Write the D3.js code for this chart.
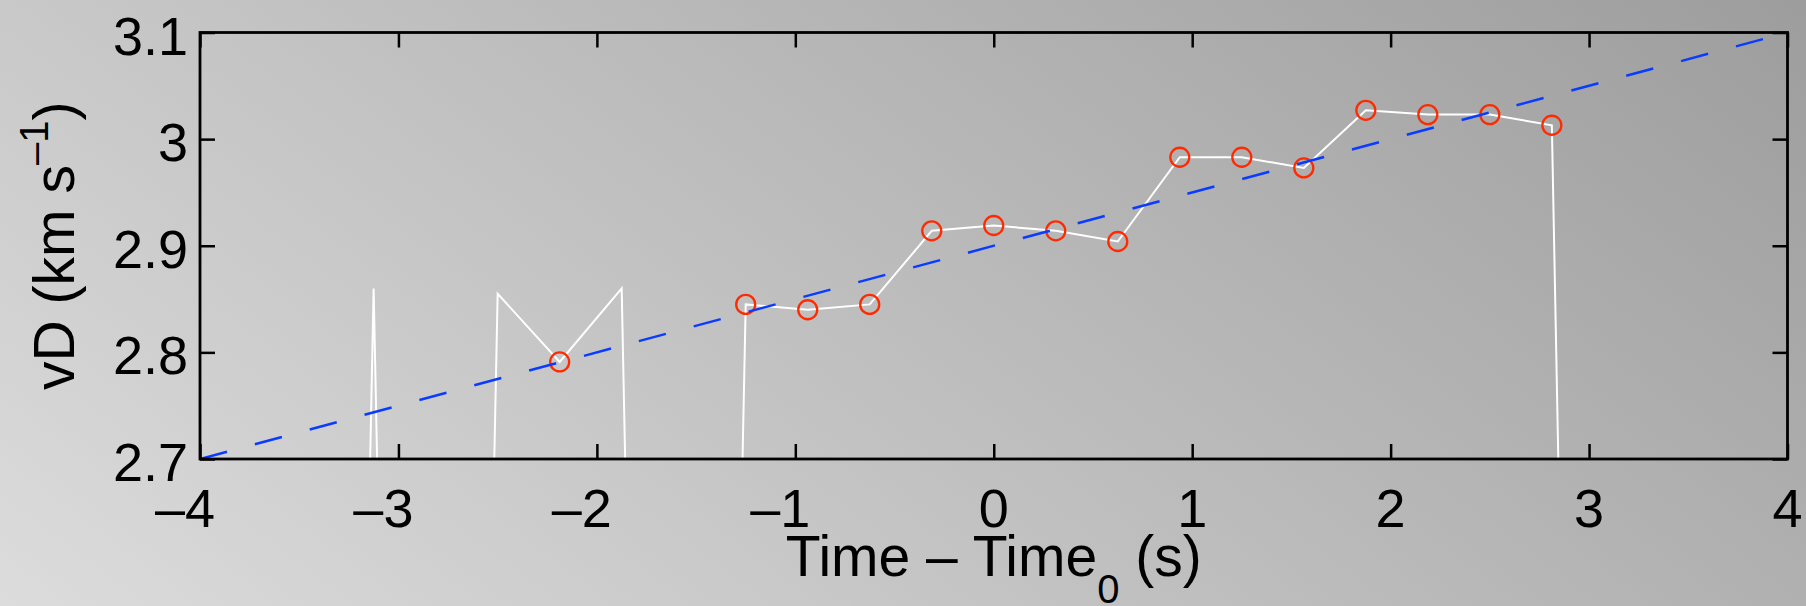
<!DOCTYPE html>
<html>
<head>
<meta charset="utf-8">
<script src="https://cdn.jsdelivr.net/npm/d3@7"></script>
<style>
  html, body { margin: 0; padding: 0; background: #c0c0c0; }
  svg { display: block; }
  text { font-family: "Liberation Sans", Arial, Helvetica, sans-serif; fill: #000; }
</style>
</head>
<body>
<svg id="chart" width="1806" height="606"></svg>
<script>
// Sample times (s, relative to Time0) and Doppler velocity (km/s)
const time = [-3.4375, -3.125, -2.8125, -2.5, -2.1875, -1.875, -1.5625, -1.25, -0.9375, -0.625,
              -0.3125, 0, 0.3125, 0.625, 0.9375, 1.25, 1.5625, 1.875, 2.1875, 2.5, 2.8125, 3.125];
const vD   = [0, 2.860, 0, 2.855, 2.791, 2.860, 0, 2.845, 2.840, 2.845,
              2.914, 2.919, 2.914, 2.904, 2.983, 2.983, 2.973, 3.027, 3.023, 3.023, 3.013, 0];
// samples kept for the fit (circled)
const selected = [0, 0, 0, 0, 1, 0, 0, 1, 1, 1,
                  1, 1, 1, 1, 1, 1, 1, 1, 1, 1, 1, 0];
// linear fit vD = intercept + slope * t
const fitIntercept = 2.9;
const fitSlope = 0.05;

const xTicks = [-4, -3, -2, -1, 0, 1, 2, 3, 4];
const yTicks = [2.7, 2.8, 2.9, 3.0, 3.1];
const yTickLabels = ["2.7", "2.8", "2.9", "3", "3.1"];

const W = 1806, H = 606;
const plot = { left: 200, right: 1787.5, top: 32.5, bottom: 459 };
const tickFont = 54, titleFont = 57;

const svg = d3.select("#chart");

// soft diagonal grey backdrop
const defs = svg.append("defs");
const grad = defs.append("linearGradient")
  .attr("id", "bg").attr("gradientUnits", "userSpaceOnUse")
  .attr("x1", 1806).attr("y1", 0).attr("x2", 865).attr("y2", 1254);
grad.append("stop").attr("offset", 0).attr("stop-color", "#9d9d9d");
grad.append("stop").attr("offset", 1).attr("stop-color", "#dcdcdc");
svg.append("rect").attr("width", W).attr("height", H).attr("fill", "url(#bg)");

defs.append("clipPath").attr("id", "plotClip")
  .append("rect")
  .attr("x", plot.left).attr("y", plot.top)
  .attr("width", plot.right - plot.left).attr("height", plot.bottom - plot.top);

const x = d3.scaleLinear().domain([-4, 4]).range([plot.left, plot.right]);
const y = d3.scaleLinear().domain([2.7, 3.1]).range([plot.bottom, plot.top]);

const data = time.map((t, i) => ({ t, v: vD[i], sel: selected[i] === 1 }));

// raw series
const g = svg.append("g").attr("clip-path", "url(#plotClip)");
g.append("path")
  .datum(data)
  .attr("fill", "none")
  .attr("stroke", "#ffffff")
  .attr("stroke-width", 2)
  .attr("stroke-linejoin", "miter")
  .attr("d", d3.line().x(d => x(d.t)).y(d => y(d.v)));

// circled samples
g.selectAll("circle.pt")
  .data(data.filter(d => d.sel))
  .join("circle")
  .attr("class", "pt")
  .attr("cx", d => x(d.t)).attr("cy", d => y(d.v))
  .attr("r", 9.5)
  .attr("fill", "none")
  .attr("stroke", "#ff2a00")
  .attr("stroke-width", 2.3);

// fitted trend
const fitDomain = x.domain();
g.append("path")
  .datum(fitDomain.map(t => ({ t, v: fitIntercept + fitSlope * t })))
  .attr("fill", "none")
  .attr("stroke", "#0a3cff")
  .attr("stroke-width", 2.5)
  .attr("stroke-dasharray", "28,28.8")
  .attr("d", d3.line().x(d => x(d.t)).y(d => y(d.v)));

// axes box with inward ticks on all four sides
const tickLen = 15;
const axes = svg.append("g");
axes.append("g").attr("transform", `translate(0,${plot.bottom})`)
  .call(d3.axisBottom(x).tickValues(xTicks).tickSize(-tickLen).tickFormat(""));
axes.append("g").attr("transform", `translate(0,${plot.top})`)
  .call(d3.axisTop(x).tickValues(xTicks).tickSize(-tickLen).tickFormat(""));
axes.append("g").attr("transform", `translate(${plot.left},0)`)
  .call(d3.axisLeft(y).tickValues(yTicks).tickSize(-tickLen).tickFormat(""));
axes.append("g").attr("transform", `translate(${plot.right},0)`)
  .call(d3.axisRight(y).tickValues(yTicks).tickSize(-tickLen).tickFormat(""));
axes.selectAll(".domain").remove();
axes.selectAll(".tick line").attr("stroke", "#000").attr("stroke-width", 2.5);

axes.append("rect")
  .attr("x", plot.left).attr("y", plot.top)
  .attr("width", plot.right - plot.left).attr("height", plot.bottom - plot.top)
  .attr("fill", "none").attr("stroke", "#000").attr("stroke-width", 2.8);

// tick labels
svg.append("g").selectAll("text")
  .data(xTicks)
  .join("text")
  .attr("x", d => x(d) + tickFont * 0.278)
  .attr("y", 526.5)
  .attr("text-anchor", "end")
  .attr("font-size", tickFont)
  .text(d => d < 0 ? "\u2013" + Math.abs(d) : String(d));

svg.append("g").selectAll("text")
  .data(yTicks)
  .join("text")
  .attr("x", 188)
  .attr("y", d => y(d) + 22)
  .attr("text-anchor", "end")
  .attr("font-size", tickFont)
  .text((d, i) => yTickLabels[i]);

// axis titles
const xt = svg.append("text")
  .attr("x", (plot.left + plot.right) / 2)
  .attr("y", 576)
  .attr("text-anchor", "middle")
  .attr("font-size", titleFont);
xt.append("tspan").text("Time \u2013 Time");
xt.append("tspan").attr("font-size", 40).attr("dy", 27).text("0");
xt.append("tspan").attr("dy", -27).text(" (s)");

const yt = svg.append("text")
  .attr("transform", `translate(73.5,${(plot.top + plot.bottom) / 2}) rotate(-90)`)
  .attr("text-anchor", "middle")
  .attr("font-size", titleFont);
yt.append("tspan").text("vD (km s");
yt.append("tspan").attr("font-size", 40).attr("dy", -26).text("\u20131");
yt.append("tspan").attr("dy", 26).text(")");
</script>
</body>
</html>
